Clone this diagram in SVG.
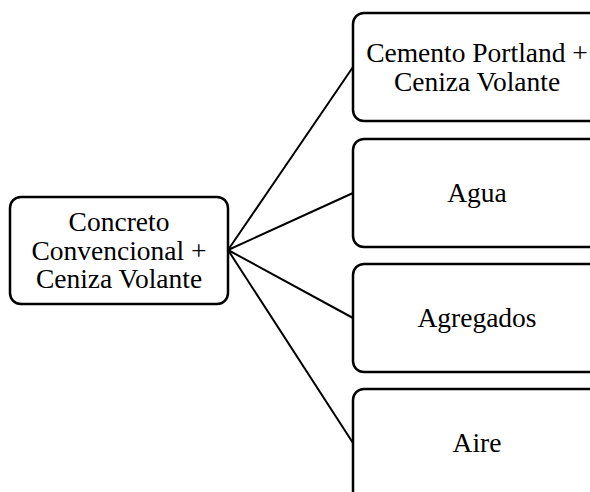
<svg xmlns="http://www.w3.org/2000/svg" width="590" height="492" viewBox="0 0 590 492">
<style>
.box{fill:#fff;stroke:#000;stroke-width:2.5}
.t{font-family:"Liberation Serif","Times New Roman",serif;font-size:27.5px;fill:#000;text-anchor:middle}
.c{stroke:#000;stroke-width:2;fill:none}
</style>
<rect width="590" height="492" fill="#fff"/>
<g id="connectors">
<line class="c" x1="228" y1="250" x2="353" y2="67"/>
<line class="c" x1="228" y1="250" x2="353" y2="193"/>
<line class="c" x1="228" y1="250" x2="353" y2="318"/>
<line class="c" x1="228" y1="250" x2="353" y2="443"/>
</g>
<g id="root">
<rect class="box" x="10" y="197" width="218" height="107" rx="11"/>
<text class="t" x="119" y="231">Concreto</text>
<text class="t" x="119" y="259.5">Convencional +</text>
<text class="t" x="119" y="288">Ceniza Volante</text>
</g>
<g id="n1">
<rect class="box" x="353" y="13" width="250" height="108" rx="11"/>
<text class="t" x="477" y="62">Cemento Portland +</text>
<text class="t" x="477" y="91">Ceniza Volante</text>
</g>
<g id="n2">
<rect class="box" x="353" y="139" width="250" height="108" rx="11"/>
<text class="t" x="477" y="202">Agua</text>
</g>
<g id="n3">
<rect class="box" x="353" y="264" width="250" height="108" rx="11"/>
<text class="t" x="477" y="327">Agregados</text>
</g>
<g id="n4">
<rect class="box" x="353" y="389" width="250" height="115" rx="11"/>
<text class="t" x="477" y="452">Aire</text>
</g>
</svg>
